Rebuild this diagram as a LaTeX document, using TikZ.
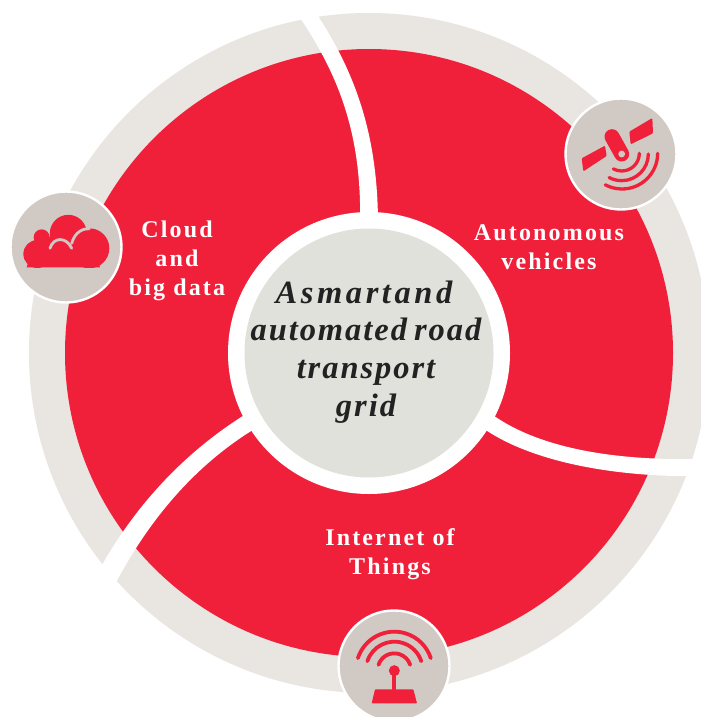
\documentclass[tikz,border=0pt]{standalone}
\usepackage{fontspec}
\newfontfamily\lblfont[LetterSpace=9,BoldFont={Liberation Serif Bold}]{Liberation Serif}
\newfontfamily\ttlfont[LetterSpace=6,BoldItalicFont={Liberation Serif Bold Italic}]{Liberation Serif}
\newfontfamily\ttlwidefont[LetterSpace=11,BoldItalicFont={Liberation Serif Bold Italic}]{Liberation Serif}
\definecolor{redfill}{HTML}{F01F3A}
\definecolor{ringgray}{HTML}{E9E5E1}
\definecolor{icongray}{HTML}{D1C9C3}
\definecolor{hubgray}{HTML}{E1E1DB}
\definecolor{inkdark}{HTML}{222222}
\tikzset{
  badge/.style={circle,fill=icongray,draw=white,line width=2.4pt,minimum size=111pt,inner sep=0pt},
  lbl/.style={text=white,align=center,font=\lblfont\bfseries\fontsize{24}{29}\selectfont,inner sep=0pt},
  ttl/.style={text=inkdark,align=center,font=\ttlfont\bfseries\itshape\fontsize{32.5}{37.7}\selectfont,inner sep=0pt},
  iconline/.style={draw=redfill,line cap=round,fill=none},
  iconcut/.style={draw=icongray,line cap=round,fill=none,line width=2.8pt},
  zoomed/.style={x=0.33333pt,y=-0.33333pt}
}
\begin{document}
\begin{tikzpicture}[x=1pt,y=-1pt]
\clip (0,0) rectangle (701,717);
\fill[white] (0,0) rectangle (701,717);
\coordinate (c) at (369,353);
\fill[ringgray] (c) circle[radius=340pt];
\fill[redfill] (c) circle[radius=304pt];
% separators
\fill[white] (296,12) .. controls (342,78) and (362,140) .. (360,225)
  -- (378,225) .. controls (378,140) and (358,75) .. (314,10) -- cycle;
\fill[white] (490,413) .. controls (540,450) and (620,461) .. (705,459)
  -- (705,476) .. controls (620,478) and (530,463) .. (480,426) -- cycle;
\fill[white] (246,414) .. controls (185,452) and (135,505) .. (98,572)
  -- (112,590) .. controls (148,520) and (195,465) .. (256,428) -- cycle;
\fill[white] (c) circle[radius=141pt];
\node[circle,fill=hubgray,minimum size=249pt,inner sep=0pt] (hub) at (c) {};
\node[ttl] (title) at (366,352) {{\ttlwidefont\bfseries\itshape Asmartand}\kern4pt\\automated\kern-3pt{} road\\transport\\grid};
\node[lbl] (cloudlbl) at (177,261) {Cloud\\and\\big data};
\node[lbl] (autolbl) at (549,247) {Autonomous\\vehicles};
\node[lbl] (iotlbl) at (390,554) {Internet of\\Things};
\node[badge] (sat) at (621,154) {};
\node[badge] (cloud) at (66,247) {};
\node[badge] (wifi) at (394,666) {};
% satellite icon
\begin{scope}[shift={(540,80)},zoomed]
  \fill[redfill,rounded corners=1pt] (125,235) -- (195,197) -- (200,228) -- (130,274) -- cycle;
  \fill[redfill,rounded corners=1pt] (268,155) -- (337,114) -- (339,160) -- (272,193) -- cycle;
  \draw[redfill,line width=15pt,line cap=round] (216,170) -- (245,222);
  \fill[icongray] (245,222) circle[radius=3.4pt];
  \draw[iconline,line width=3.3pt] (298,220) arc[start angle=0,end angle=118,radius=53];
  \draw[iconline,line width=3.3pt] (325,222) arc[start angle=0,end angle=118,radius=80];
  \draw[iconline,line width=3.3pt] (353,220) arc[start angle=0,end angle=118,radius=107];
\end{scope}
% cloud icon
\begin{scope}[shift={(0,180)},zoomed]
  \begin{scope}
    \clip (60,100) rectangle (340,262);
    \fill[redfill] (112,222) circle[radius=14pt];
    \fill[redfill] (125,172) circle[radius=8pt];
    \fill[redfill] (205,160) circle[radius=18.5pt];
    \fill[redfill] (268,205) circle[radius=20pt];
    \fill[redfill] (80,262) -- (105,180) -- (270,145) -- (300,262) -- cycle;
  \end{scope}
  \draw[iconcut] (150,205) .. controls (160,170) and (200,170) .. (215,205);
  \draw[iconcut] (215,190) .. controls (225,155) and (250,145) .. (268,146);
\end{scope}
% antenna icon
\begin{scope}[shift={(325,600)},zoomed]
  \draw[iconline,line width=3.8pt] (208,210) ++(198:115) arc[start angle=198,end angle=342,radius=115];
  \draw[iconline,line width=3.8pt] (208,210) ++(198:85) arc[start angle=198,end angle=342,radius=85];
  \draw[iconline,line width=3.8pt] (208,210) ++(198:50) arc[start angle=198,end angle=342,radius=50];
  \fill[redfill] (208,212) circle[radius=5.5pt];
  \fill[redfill] (202,212) rectangle (214,270);
  \fill[redfill,rounded corners=0.7pt] (150,268) -- (265,268) -- (276,310) -- (140,310) -- cycle;
\end{scope}
\end{tikzpicture}
\end{document}
